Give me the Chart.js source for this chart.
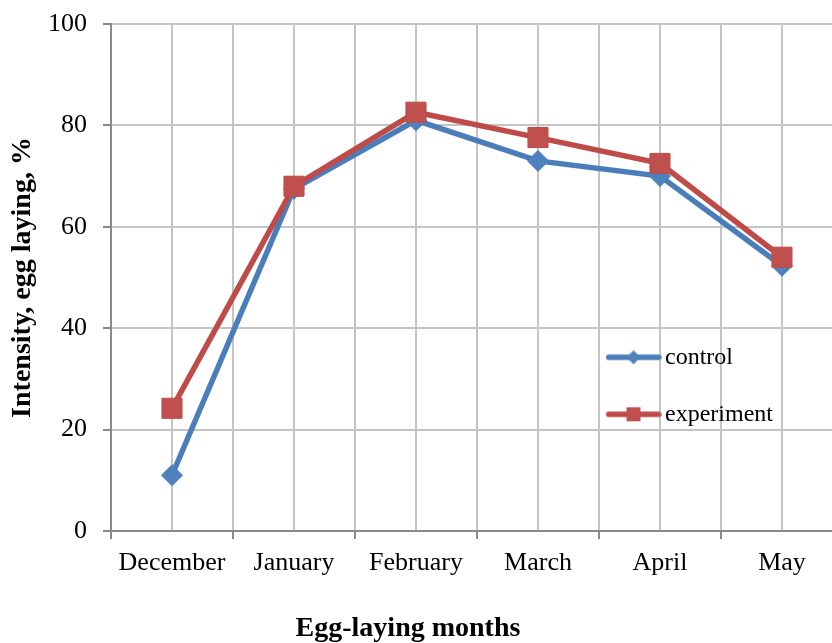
<!DOCTYPE html>
<html>
<head>
<meta charset="utf-8">
<script src="https://cdn.jsdelivr.net/npm/chart.js@4/dist/chart.umd.min.js"></script>
<style>
  html, body { margin: 0; padding: 0; background: #fff; overflow: hidden; }
  #wrap { position: relative; width: 832px; height: 643px; }
</style>
</head>
<body>
<div id="wrap"><canvas id="c" width="832" height="643"></canvas></div>
<script>
const categories = ['December', 'January', 'February', 'March', 'April', 'May'];
const controlValues = [11, 67.5, 81, 73, 70, 52.3];
const experimentValues = [24.2, 68, 82.6, 77.6, 72.5, 54];
const yTicks = [0, 20, 40, 60, 80, 100];
const seriesNames = ['control', 'experiment'];
const xTitle = 'Egg-laying months';
const yTitle = 'Intensity, egg laying, %';

const FONT = "'Times New Roman', 'Liberation Serif', serif";
const BLUE_LINE = '#4A7EBB', BLUE_FILL = '#4F81BD';
const RED_LINE = '#BE4B48', RED_FILL = '#C0504D';
const GRID = '#C4C4C4', AXIS = '#8A8A8A';

function toPoints(vals) { return vals.map((v, i) => ({ x: i, y: v })); }

// legend icons: line with marker (Excel style)
function makeIcon(color, fill, shape) {
  const cv = document.createElement('canvas');
  cv.width = 56; cv.height = 22;
  const g = cv.getContext('2d');
  g.strokeStyle = color; g.lineWidth = 5.5; g.lineCap = 'round';
  g.beginPath(); g.moveTo(3, 11); g.lineTo(53, 11); g.stroke();
  g.fillStyle = fill;
  if (shape === 'diamond') {
    g.beginPath(); g.moveTo(28, 4); g.lineTo(35, 11); g.lineTo(28, 18); g.lineTo(21, 11); g.closePath(); g.fill();
  } else {
    g.fillRect(21, 4, 14, 14);
  }
  return cv;
}
const icons = [makeIcon(BLUE_LINE, BLUE_FILL, 'diamond'), makeIcon(RED_LINE, RED_FILL, 'square')];

const legendPlace = {
  id: 'legendPlace',
  afterLayout(chart) {
    const lg = chart.legend;
    if (!lg) return;
    lg.left = 581; lg.top = 312.3;
  }
};

const xTickValues = [];
categories.forEach((c, i) => { xTickValues.push(i - 0.5, i); });

new Chart(document.getElementById('c'), {
  type: 'line',
  data: {
    datasets: [
      {
        label: seriesNames[0],
        data: toPoints(controlValues),
        borderColor: BLUE_LINE,
        backgroundColor: BLUE_FILL,
        borderWidth: 5.5,
        pointStyle: 'rectRot',
        pointRadius: 10.5,
        pointHoverRadius: 10.5,
        pointBackgroundColor: BLUE_FILL,
        pointBorderColor: BLUE_LINE,
        pointBorderWidth: 1,
        tension: 0,
        clip: false,
        order: 2
      },
      {
        label: seriesNames[1],
        data: toPoints(experimentValues),
        borderColor: RED_LINE,
        backgroundColor: RED_FILL,
        borderWidth: 5.5,
        pointStyle: 'rect',
        pointRadius: 14.2,
        pointHoverRadius: 14.2,
        pointBackgroundColor: RED_FILL,
        pointBorderColor: RED_LINE,
        pointBorderWidth: 1,
        tension: 0,
        clip: false,
        order: 1
      }
    ]
  },
  options: {
    responsive: false,
    animation: false,
    events: [],
    layout: { autoPadding: false, padding: { top: 24, left: -16, right: 0, bottom: 0 } },
    scales: {
      x: {
        type: 'linear',
        min: -0.5,
        max: 5.41,
        afterBuildTicks(scale) { scale.ticks = xTickValues.map(v => ({ value: v })); },
        afterFit(scale) { scale.height = 48.2; scale.paddingLeft = 0; scale.paddingRight = 0; },
        ticks: {
          autoSkip: false,
          maxRotation: 0,
          padding: 9,
          color: '#000',
          font: { family: FONT, size: 26, lineHeight: 1.2 },
          callback(v) { return Number.isInteger(v) ? categories[v] : ''; }
        },
        grid: {
          color: GRID,
          lineWidth: 2,
          tickLength: 8,
          tickColor: (ctx) => (ctx.tick && !Number.isInteger(ctx.tick.value)) ? AXIS : 'rgba(0,0,0,0)',
          tickWidth: 2
        },
        border: { color: AXIS, width: 2 }
      },
      y: {
        min: 0,
        max: 100,
        afterBuildTicks(scale) { scale.ticks = yTicks.map(v => ({ value: v })); },
        afterFit(scale) { scale.width = 127; scale.paddingTop = 0; scale.paddingBottom = 0; },
        ticks: {
          padding: 16,
          color: '#000',
          font: { family: FONT, size: 26, lineHeight: 1.2 }
        },
        grid: { color: GRID, lineWidth: 2, tickLength: 8, tickColor: AXIS, tickWidth: 2 },
        border: { color: AXIS, width: 2 },
        title: {
          display: true,
          text: yTitle,
          color: '#000',
          font: { family: FONT, size: 28, weight: 'bold', lineHeight: 1.2 },
          padding: { top: 22, bottom: 0 }
        }
      }
    },
    plugins: {
      tooltip: { enabled: false },
      title: {
        display: true,
        position: 'bottom',
        text: xTitle,
        color: '#000',
        font: { family: FONT, size: 28, weight: 'bold', lineHeight: 1 },
        padding: { top: 35.8, bottom: 0 }
      },
      legend: {
        position: 'chartArea',
        align: 'start',
        labels: {
          usePointStyle: true,
          pointStyleWidth: 39,
          padding: 33,
          color: '#000',
          font: { family: FONT, size: 24 },
          generateLabels(chart) {
            const base = Chart.defaults.plugins.legend.labels.generateLabels(chart);
            base.sort((a, b) => a.datasetIndex - b.datasetIndex);
            base.forEach(it => { it.pointStyle = icons[it.datasetIndex]; it.rotation = 0; });
            return base;
          }
        }
      }
    }
  },
  plugins: [legendPlace]
});
</script>
</body>
</html>
